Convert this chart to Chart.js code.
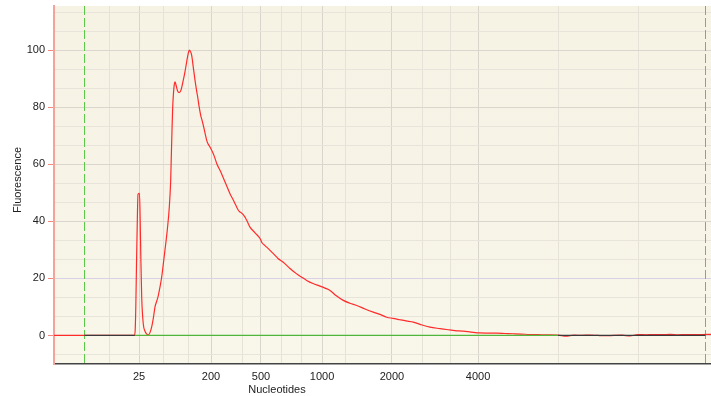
<!DOCTYPE html>
<html>
<head>
<meta charset="utf-8">
<script src="https://cdn.jsdelivr.net/npm/chart.js@4/dist/chart.umd.min.js"></script>
<style>
  html, body { margin: 0; padding: 0; background: #ffffff; }
  canvas { display: block; }
</style>
</head>
<body>
<canvas id="electropherogram" width="711" height="396"></canvas>
<script>
// Migration time (s) of each sample point of the trace
const traceTime = [
  19.000, 21.283, 25.126, 25.180, 25.225, 25.279, 25.339, 25.393, 25.507, 25.560,
  25.606, 25.674, 25.796, 25.925, 26.055, 26.176, 26.306, 26.435, 26.557, 26.686,
  26.816, 26.937, 27.067, 27.196, 27.318, 27.447, 27.622, 27.775, 27.877, 27.923,
  27.980, 28.033, 28.094, 28.155, 28.208, 28.285, 28.399, 28.536, 28.665, 28.840,
  28.970, 29.099, 29.221, 29.297, 29.388, 29.479, 29.601, 29.731, 29.845, 29.936,
  30.035, 30.164, 30.263, 30.362, 30.491, 30.621, 30.720, 30.872, 31.123, 31.253,
  31.405, 31.633, 31.862, 32.090, 32.394, 32.699, 33.026, 33.155, 33.307, 33.536,
  33.726, 33.916, 34.297, 34.677, 34.830, 35.058, 35.362, 35.689, 36.047, 36.450,
  36.960, 37.470, 37.797, 38.231, 38.711, 39.243, 39.624, 40.004, 40.461, 41.016,
  41.526, 42.036, 42.668, 43.299, 43.809, 44.319, 44.799, 45.332, 45.788, 46.344,
  46.854, 47.615, 48.376, 48.886, 49.517, 50.149, 50.735, 51.420, 52.029, 52.691,
  53.323, 53.955, 54.541, 55.226, 55.834, 56.496, 57.356, 57.965, 58.574, 59.183,
  59.791, 60.400, 61.009, 61.618, 62.227, 62.836, 63.444, 64.053, 64.662, 65.271,
  65.880, 66.489, 67.097, 67.706, 68.315, 69.000
];
// Fluorescence at each of those times
const traceFluor = [
  0, 0, 0, 2, 10, 25, 40, 49.5, 49.8, 40,
  28, 13.5, 4, 1.5, 0.5, 0.2, 1, 3, 6, 10,
  12, 14, 17, 20.5, 25, 30, 37, 45, 54, 62,
  72, 80, 85, 88, 88.9, 87.8, 85.8, 85.1, 86, 89.5,
  92.5, 96, 99, 100, 99.5, 98.2, 94, 89.5, 86, 83.6,
  80.5, 77.2, 75.5, 73.7, 71, 68.4, 67.2, 66.1, 63.7, 62.1,
  60, 57.9, 55.5, 53, 49.7, 47, 43.9, 43.3, 42.8, 41.5,
  39.8, 38, 36, 34, 32.5, 31.5, 30.2, 28.7, 27.0, 25.7,
  23.5, 21.6, 20.6, 19.3, 18.2, 17.3, 16.6, 15.8, 14, 12.3,
  11.3, 10.5, 9.3, 8.2, 7.4, 6.4, 6, 5.5, 5.1, 4.7,
  3.9, 2.9, 2.4, 2.1, 1.7, 1.5, 1.2, 0.9, 0.85, 0.8,
  0.7, 0.6, 0.5, 0.35, 0.3, 0.2, 0.15, -0.25, 0.1, 0.05,
  0.15, 0, -0.1, 0.05, 0.1, -0.15, 0.3, 0.25, 0.35, 0.3,
  0.4, 0.25, 0.35, 0.3, 0.35, 0.4
];

// Ladder sizes (nt) labelled on the x axis and the times they migrate at
const ladderSizes = [25, 200, 500, 1000, 2000, 4000];
const ladderTimes = [25.47, 30.95, 34.75, 39.40, 44.72, 51.27];
// Additional unlabelled vertical grid times
const minorGridTimes = [23.19, 27.30, 29.20, 33.38, 36.28, 37.80, 41.22, 47.01, 49.14, 57.36, 63.52];
// Lower and upper marker times (dashed green lines)
const markerTimes = [21.32, 68.58];
// Baseline spans (start, end times)
const blackBaselineSpans = [[21.32, 25.15], [57.36, 68.58]];
const greenBaselineSpans = [[25.15, 57.36]];
// Labelled fluorescence values
const yLabels = [0, 20, 40, 60, 80, 100];

const TIME_MIN = 19, TIME_MAX = 69;
const FLUOR_MIN = -10, FLUOR_MAX = 115.5;
const FLUOR_GRID_STEP = 20 / 3;

function spansToPoints(spans) {
  const pts = [];
  spans.forEach(([a, b]) => {
    pts.push({ x: a, y: 0 }, { x: b, y: 0 }, { x: b, y: null });
  });
  return pts;
}

const near = (list, v, tol) => list.findIndex(t => Math.abs(t - v) < tol);

const tracePoints = traceTime.map((t, i) => ({ x: t, y: traceFluor[i] }));

const yGridValues = [];
for (let k = Math.ceil(FLUOR_MIN / FLUOR_GRID_STEP); k * FLUOR_GRID_STEP <= FLUOR_MAX; k++) {
  yGridValues.push(k * FLUOR_GRID_STEP);
}

// Plot background, marker lines and axis titles
const decorPlugin = {
  id: 'decor',
  beforeDraw(chart) {
    const { ctx, chartArea: a } = chart;
    ctx.save();
    ctx.fillStyle = '#ffffff';
    ctx.fillRect(0, 0, chart.width, chart.height);
    const g = ctx.createLinearGradient(0, a.top, 0, a.bottom);
    g.addColorStop(0, '#f6f2e4');
    g.addColorStop(0.5, '#f7f4e7');
    g.addColorStop(1, '#f8f7ea');
    ctx.fillStyle = g;
    ctx.fillRect(a.left, a.top, a.right - a.left, a.bottom - a.top);
    ctx.restore();
  },
  beforeDatasetsDraw(chart) {
    const { ctx, chartArea: a, scales } = chart;
    ctx.save();
    ctx.strokeStyle = '#5cc84a';
    ctx.lineWidth = 1;
    ctx.setLineDash([9, 3]);
    markerTimes.forEach(t => {
      const x = Math.round(scales.x.getPixelForValue(t)) + 0.5;
      ctx.beginPath();
      ctx.moveTo(x, a.top);
      ctx.lineTo(x, a.bottom);
      ctx.stroke();
    });
    ctx.restore();
  },
  afterDraw(chart) {
    const { ctx } = chart;
    ctx.save();
    ctx.fillStyle = '#222222';
    ctx.font = '11px "Liberation Sans", Arial, sans-serif';
    ctx.textAlign = 'center';
    ctx.textBaseline = 'middle';
    ctx.fillText('Nucleotides', 277, 390);
    ctx.translate(18, 180);
    ctx.rotate(-Math.PI / 2);
    ctx.fillText('Fluorescence', 0, 0);
    ctx.restore();
  }
};

new Chart(document.getElementById('electropherogram'), {
  type: 'line',
  data: {
    datasets: [
      {
        data: spansToPoints(blackBaselineSpans),
        borderColor: '#3a3a3a',
        borderWidth: 1.3,
        pointRadius: 0,
        spanGaps: false
      },
      {
        data: spansToPoints(greenBaselineSpans),
        borderColor: '#4fb63c',
        borderWidth: 1.3,
        pointRadius: 0,
        spanGaps: false
      },
      {
        data: tracePoints,
        borderColor: '#ff2b2b',
        borderWidth: 1.2,
        pointRadius: 0,
        cubicInterpolationMode: 'monotone'
      }
    ]
  },
  options: {
    responsive: false,
    animation: false,
    devicePixelRatio: 1,
    layout: { padding: { top: 6, right: 0, left: 0, bottom: 0 } },
    plugins: { legend: { display: false }, tooltip: { enabled: false } },
    scales: {
      x: {
        type: 'linear',
        min: TIME_MIN,
        max: TIME_MAX,
        afterBuildTicks(scale) {
          scale.ticks = ladderTimes.concat(minorGridTimes).sort((a, b) => a - b).map(v => ({ value: v }));
        },
        afterFit(scale) {
          scale.height = 32;
          scale.paddingLeft = 0;
          scale.paddingRight = 0;
        },
        ticks: {
          autoSkip: false,
          maxRotation: 0,
          padding: 6,
          color: '#222222',
          font: { family: '"Liberation Sans", Arial, sans-serif', size: 11 },
          callback(value) {
            const i = near(ladderTimes, value, 1e-6);
            return i >= 0 ? String(ladderSizes[i]) : '';
          }
        },
        grid: {
          drawTicks: false,
          color(ctx) {
            if (!ctx.tick) return 'transparent';
            return near(ladderTimes, ctx.tick.value, 1e-6) >= 0 ? '#d9d5cd' : '#e6e2d8';
          },
          lineWidth: 1
        },
        border: { color: '#444444', width: 1.5 }
      },
      y: {
        type: 'linear',
        min: FLUOR_MIN,
        max: FLUOR_MAX,
        afterBuildTicks(scale) {
          scale.ticks = yGridValues.map(v => ({ value: v }));
        },
        afterFit(scale) {
          scale.width = 54;
          scale.paddingTop = 0;
          scale.paddingBottom = 0;
        },
        ticks: {
          autoSkip: false,
          padding: 3,
          color: '#222222',
          font: { family: '"Liberation Sans", Arial, sans-serif', size: 11 },
          callback(value) {
            const i = near(yLabels, value, 1e-6);
            return i >= 0 ? String(yLabels[i]) : '';
          }
        },
        grid: {
          tickLength: 6,
          tickColor(ctx) {
            if (!ctx.tick) return 'transparent';
            return near(yLabels, ctx.tick.value, 1e-6) >= 0 ? '#f08a80' : 'transparent';
          },
          color(ctx) {
            if (!ctx.tick) return 'transparent';
            const v = ctx.tick.value;
            if (Math.abs(v - 20) < 1e-6) return '#d9d2e6';
            return near(yLabels, v, 1e-6) >= 0 ? '#dad6ce' : '#e8e4db';
          },
          lineWidth: 1
        },
        border: { color: '#f4a39b', width: 2 }
      }
    }
  },
  plugins: [decorPlugin]
});
</script>
</body>
</html>
